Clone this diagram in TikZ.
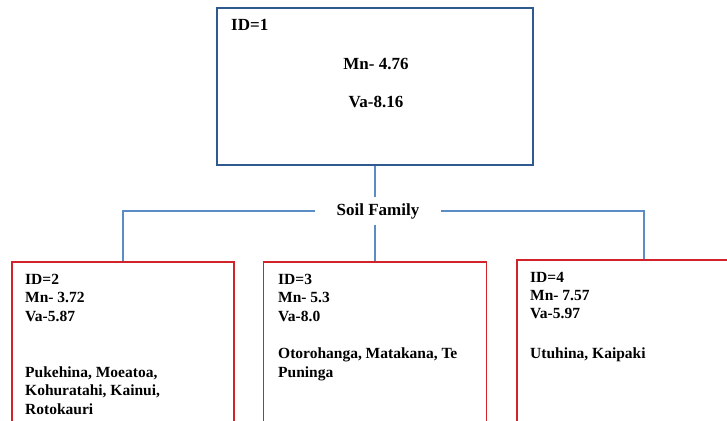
\documentclass[tikz,border=0pt]{standalone}
\usepackage{fontspec}
\setmainfont{Liberation Serif}
\definecolor{topblue}{HTML}{2F5A8F}
\definecolor{lineblue}{HTML}{5B8CC4}
\definecolor{boxred}{HTML}{D2232A}
\begin{document}
\begin{tikzpicture}[x=1pt,y=-1pt,
  topbox/.style={draw=topblue,line width=1.8pt,minimum width=316pt,minimum height=157pt,inner sep=0pt},
  leafbox/.style={draw=boxred,line width=1.6pt,minimum height=178pt,inner sep=0pt},
  conn/.style={draw=lineblue,line width=1.3pt},
  bigtxt/.style={font=\fontsize{17}{20}\selectfont\bfseries,inner sep=0pt},
  smalltxt/.style={font=\fontsize{15.5}{18}\selectfont\bfseries,inner sep=0pt,anchor=base west}]
\useasboundingbox (0,0) rectangle (727,420);
% boxes
\node[topbox] (top) at (375,86.5) {};
\node[leafbox,minimum width=222pt] (b2) at (123,351) {};
\node[leafbox,minimum width=223pt] (b3) at (375,351) {};
\node[leafbox,minimum width=254pt] (b4) at (644,349) {};
% soil family
\node[bigtxt,inner xsep=21pt,minimum height=27pt] (sf) at (378,211) {Soil Family};
% connectors
\draw[conn] (top.south) -- (top.south |- sf.north);
\draw[conn] (b3.north |- sf.south) -- (b3.north);
\draw[conn] (sf.west) -| (b2.north);
\draw[conn] (sf.east) -| (b4.north);
% top box text
\node[bigtxt,anchor=base west] (id1) at (231,31) {ID=1};
\node[bigtxt,anchor=base] (mn1) at (376,69.5) {Mn- 4.76};
\node[bigtxt,anchor=base] (va1) at (376,107) {Va-8.16};
% box 2
\node[smalltxt] (id2) at (25,284) {ID=2};
\node[smalltxt] (mn2) at (25,302.5) {Mn- 3.72};
\node[smalltxt] (va2) at (25,321) {Va-5.87};
\node[smalltxt] (n2a) at (25,377) {Pukehina, Moeatoa,};
\node[smalltxt] (n2b) at (25,395.5) {Kohuratahi, Kainui,};
\node[smalltxt] (n2c) at (25,414) {Rotokauri};
% box 3
\node[smalltxt] (id3) at (278,284) {ID=3};
\node[smalltxt] (mn3) at (278,302.5) {Mn- 5.3};
\node[smalltxt] (va3) at (278,321) {Va-8.0};
\node[smalltxt] (n3a) at (278,358) {Otorohanga, Matakana, Te};
\node[smalltxt] (n3b) at (278,377) {Puninga};
% box 4
\node[smalltxt] (id4) at (530,282.5) {ID=4};
\node[smalltxt] (mn4) at (530,300.5) {Mn- 7.57};
\node[smalltxt] (va4) at (530,318.5) {Va-5.97};
\node[smalltxt] (n4a) at (530,358) {Utuhina, Kaipaki};
\end{tikzpicture}
\end{document}
